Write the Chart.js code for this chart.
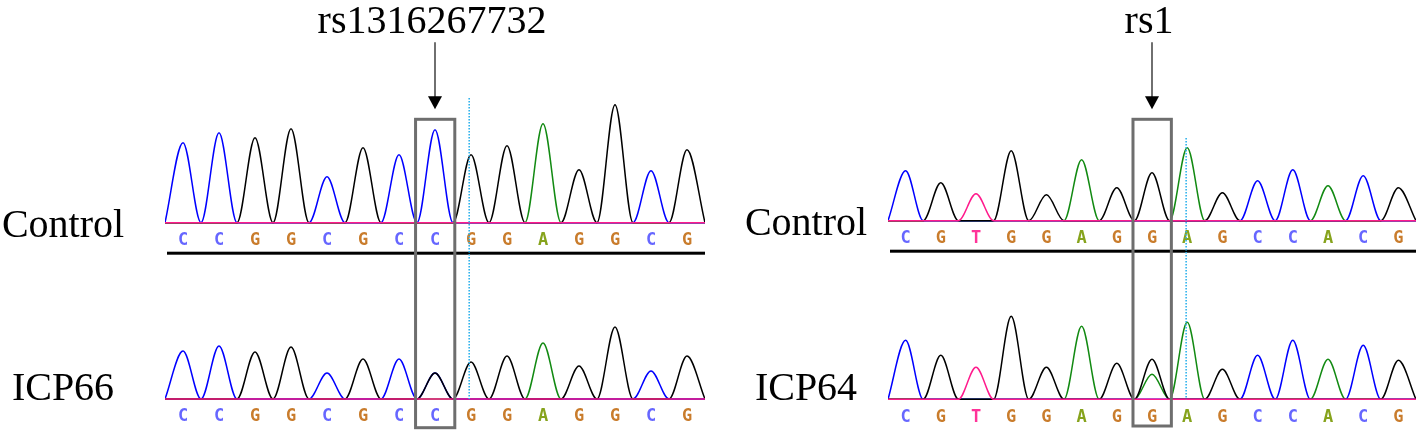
<!DOCTYPE html>
<html>
<head>
<meta charset="utf-8">
<script src="https://cdn.jsdelivr.net/npm/chart.js@4.4.1/dist/chart.umd.min.js"></script>
<style>
html, body { margin: 0; padding: 0; background: #fff; }
#wrap { position: relative; width: 1418px; height: 432px; overflow: hidden; }
canvas { position: absolute; top: 0; }
</style>
</head>
<body>
<div id="wrap">
  <canvas id="left" width="720" height="432" style="left:0px"></canvas>
  <canvas id="right" width="698" height="432" style="left:720px"></canvas>
</div>
<script>
// base calls and peak heights
const leftBases = ['C','C','G','G','C','G','C','C','G','G','A','G','G','C','G'];
const leftControl = [80, 90, 85, 94, 46, 75, 68, 93, 68, 77, 99, 53, 118, 52, 73];
const leftSample = [48, 53, 47, 52, 26, 40, 40, 26, 37, 43, 56, 33, 72, 28, 43];
const leftSampleMixed = [{ index: 7, base: 'G', height: 26 }];

const rightBases = ['C','G','T','G','G','A','G','G','A','G','C','C','A','C','G'];
const rightControl = [50, 38, 27, 70, 26, 61, 33, 48, 73, 28, 40, 51, 35, 45, 33];
const rightSample = [59, 44, 32, 83, 32, 73, 36, 40, 77, 30, 44, 59, 40, 54, 39];
const rightSampleMixed = [{ index: 7, base: 'A', height: 25 }];

const traceColors = { T: '#ff1a8c', G: '#000000', C: '#0000ff', A: '#128a12' };
const letterColors = { T: '#ff3399', G: '#c97c2c', C: '#6666ff', A: '#86a31c' };

function traces(bases, heights, mixed, axis) {
    const sets = [];
    ['T', 'G', 'C', 'A'].forEach((c) => {
        const pts = [];
        bases.forEach((b, i) => {
            let h = b === c ? heights[i] : 0;
            mixed.forEach((m) => { if (m.index === i && m.base === c) h = m.height; });
            pts.push({ x: i - 0.5, y: 0 });
            pts.push({ x: i, y: h });
        });
        pts.push({ x: bases.length - 0.5, y: 0 });
        sets.push({
            data: pts,
            borderColor: traceColors[c],
            borderWidth: 1.5,
            pointRadius: 0,
            fill: false,
            cubicInterpolationMode: 'monotone',
            yAxisID: axis
        });
    });
    return sets;
}

const seqPlugin = {
    id: 'seq',
    afterDraw(chart, args, o) {
        const ctx = chart.ctx;
        const x = chart.scales.x, yT = chart.scales.yTop, yB = chart.scales.yBot;
        const area = chart.chartArea;
        const baseTop = yT.getPixelForValue(0), baseBot = yB.getPixelForValue(0);
        ctx.save();

        // base letters
        ctx.font = 'bold 17px "DejaVu Sans Mono"';
        ctx.textAlign = 'center';
        ctx.textBaseline = 'middle';
        o.bases.forEach((b, i) => {
            ctx.fillStyle = letterColors[b];
            ctx.fillText(b, x.getPixelForValue(i), baseTop + 18);
            ctx.fillText(b, x.getPixelForValue(i), baseBot + 18);
        });

        // black rule under the control
        ctx.fillStyle = '#000';
        ctx.fillRect(area.left + 2, baseTop + 29, area.right - area.left - 2, 3);

        // cyan dotted marker
        const cx = x.getPixelForValue(o.cyanIndex);
        ctx.strokeStyle = '#2fb2ec';
        ctx.lineWidth = 1.6;
        ctx.setLineDash([1.5, 1.5]);
        ctx.beginPath();
        ctx.moveTo(cx, yT.getPixelForValue(o.cyanTop));
        ctx.lineTo(cx, baseBot);
        ctx.stroke();
        ctx.setLineDash([]);

        // snp box
        const bl = x.getPixelForValue(o.boxIndex - 0.54), br = x.getPixelForValue(o.boxIndex + 0.55);
        const bt = yT.getPixelForValue(o.boxTop), bb = yB.getPixelForValue(o.boxBottom);
        ctx.strokeStyle = '#6e6e6e';
        ctx.lineWidth = 3;
        ctx.strokeRect(bl, bt, br - bl, bb - bt);

        // arrow + snp id
        const ax = x.getPixelForValue(o.boxIndex);
        const tip = bt - 10, start = tip - 67;
        ctx.strokeStyle = '#222';
        ctx.lineWidth = 1.3;
        ctx.beginPath();
        ctx.moveTo(ax, start);
        ctx.lineTo(ax, tip - 12);
        ctx.stroke();
        ctx.fillStyle = '#000';
        ctx.beginPath();
        ctx.moveTo(ax, tip);
        ctx.lineTo(ax - 7, tip - 13);
        ctx.lineTo(ax + 7, tip - 13);
        ctx.closePath();
        ctx.fill();
        ctx.font = '40px "Liberation Serif"';
        ctx.textBaseline = 'alphabetic';
        ctx.fillText(o.snp, ax - 3, start - 9);

        // sample names
        ctx.font = '40px "Liberation Serif"';
        ctx.fillText(o.names[0], o.nameX, baseTop + 14);
        ctx.fillText(o.names[1], o.nameX, baseBot + 1);
        ctx.restore();
    }
};

function makeChart(id, bases, control, sample, mixed, pad, yTop, yBot, extra) {
    new Chart(document.getElementById(id), {
        type: 'line',
        data: {
            datasets: traces(bases, control, [], 'yTop').concat(traces(bases, sample, mixed, 'yBot'))
        },
        options: {
            responsive: false,
            animation: false,
            layout: { padding: pad },
            plugins: {
                legend: { display: false },
                tooltip: { enabled: false },
                seq: Object.assign({ bases: bases }, extra)
            },
            scales: {
                x: { type: 'linear', min: -0.5, max: bases.length - 0.5, display: false },
                yTop: { min: yTop[0], max: yTop[1], display: false },
                yBot: { min: yBot[0], max: yBot[1], display: false }
            }
        },
        plugins: [seqPlugin]
    });
}

makeChart('left', leftBases, leftControl, leftSample, leftSampleMixed,
    { left: 165, right: 15, top: 100, bottom: 7 },
    [-202.3, 122.7], [-26, 299],
    { snp: 'rs1316267732', names: ['Control', 'ICP66'], nameX: 63,
      boxIndex: 7, boxTop: 103.4, boxBottom: -28.7, cyanIndex: 7.95, cyanTop: 124.7 });

makeChart('right', rightBases, rightControl, rightSample, rightSampleMixed,
    { left: 168, right: 2, top: 100, bottom: 7 },
    [-204.3, 120.7], [-25.7, 299.3],
    { snp: 'rs1', names: ['Control', 'ICP64'], nameX: 86,
      boxIndex: 7, boxTop: 101.4, boxBottom: -26.7, cyanIndex: 7.97, cyanTop: 82.7 });
</script>
</body>
</html>
